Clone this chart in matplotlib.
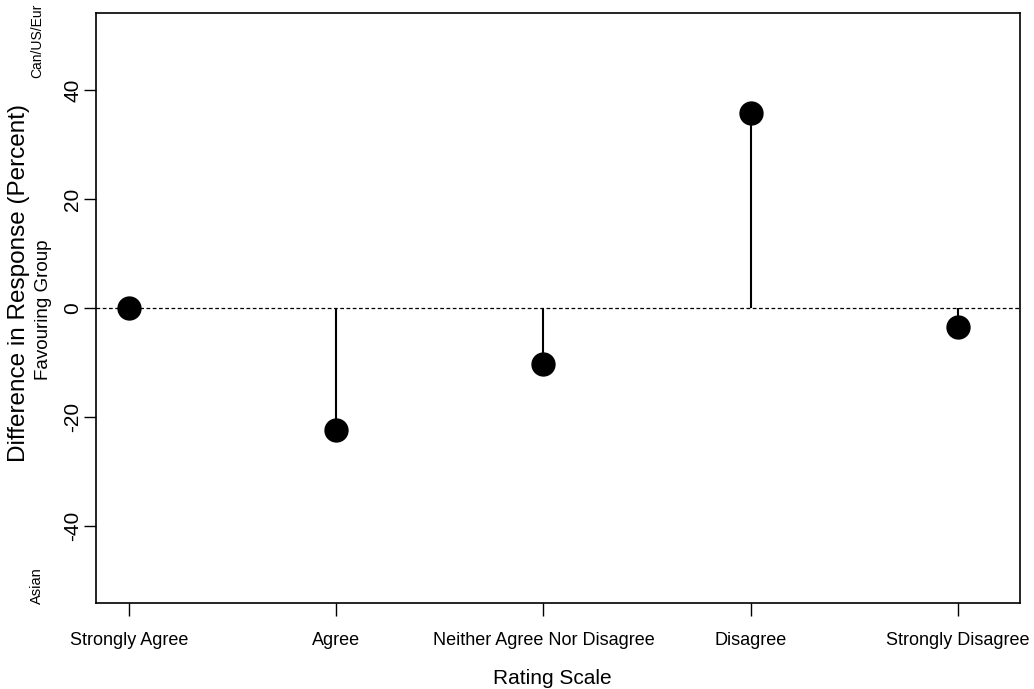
import matplotlib.pyplot as plt

categories = ["Strongly Agree", "Agree", "Neither Agree Nor Disagree", "Disagree", "Strongly Disagree"]
differences = [0.0, -22.4, -10.3, 35.8, -3.5]
y_ticks = [-40, -20, 0, 20, 40]

plt.rcParams['font.family'] = ['Liberation Sans', 'DejaVu Sans']

fig = plt.figure(figsize=(10.34, 6.89), dpi=100)
ax = fig.add_axes([96 / 1034, 86 / 689, 924 / 1034, 590 / 689])

x = list(range(1, len(categories) + 1))
ax.axhline(0, color='black', linestyle=(0, (3, 2)), linewidth=0.9, zorder=1)
ax.vlines(x, 0, differences, color='black', linewidth=1.5, zorder=2)
ax.plot(x, differences, 'o', color='black', markersize=16.5, zorder=3)

ax.set_xlim(0.84, 5.30)
ax.set_ylim(-54.1, 54.1)
ax.set_xticks(x)
ax.set_xticklabels(categories, fontsize=13)
ax.set_yticks(y_ticks)
ax.set_yticklabels([str(v) for v in y_ticks], rotation=90, va='center', fontsize=15)
ax.tick_params(axis='both', direction='out', length=9, width=1, colors='black')
ax.tick_params(axis='x', pad=12)
ax.tick_params(axis='y', pad=1)
for s in ax.spines.values():
    s.set_linewidth(1.2)

ax.set_xlabel("Rating Scale", fontsize=15, labelpad=14)
ax.xaxis.label.set_x((552 - 96) / 924)

fig.text(19 / 1034, 1 - 283 / 689, "Difference in Response (Percent)", rotation=90,
         ha='center', va='center', fontsize=17.5)
fig.text(44 / 1034, 1 - 310 / 689, "Favouring Group", rotation=90,
         ha='center', va='center', fontsize=13.5)
fig.text(37 / 1034, 1 - 41 / 689, "Can/US/Eur", rotation=90,
         ha='center', va='center', fontsize=10)
fig.text(37 / 1034, 1 - 586 / 689, "Asian", rotation=90,
         ha='center', va='center', fontsize=10.5)

fig.savefig("out.png", dpi=100)
